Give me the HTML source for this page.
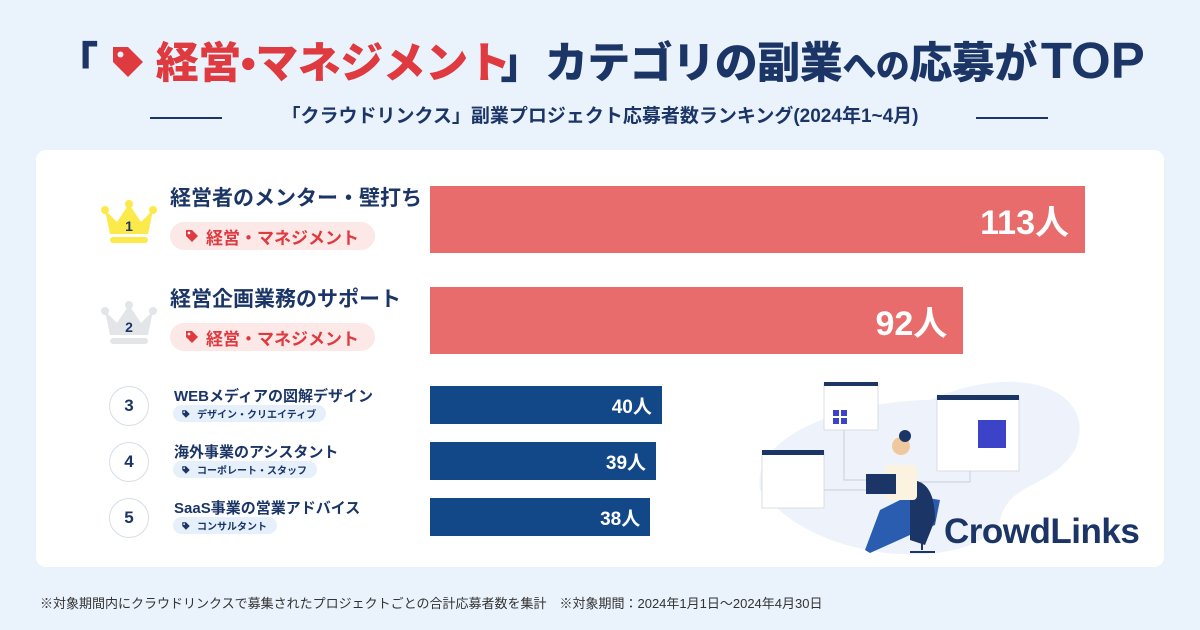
<!DOCTYPE html>
<html><head><meta charset="utf-8"><style>
*{margin:0;padding:0;box-sizing:border-box}
body{width:1200px;height:630px;background:#eaf2fb;font-family:"Liberation Sans","Noto Sans CJK JP",sans-serif;position:relative;overflow:hidden;color:#1b3566}
.abs{position:absolute}
#title{left:0;width:1200px;top:31px;text-align:center;font-weight:900;font-size:43px;white-space:nowrap;letter-spacing:-0.5px;line-height:60px}
.red{color:#de3a3f}
#sub{left:0;width:1200px;top:104px;text-align:center;font-weight:700;font-size:19px;line-height:26px}
.line{height:2px;background:#1b3566;top:117px;width:72px}
#card{left:36px;top:150px;width:1128px;height:417px;background:#fff;border-radius:10px}
.name{font-weight:700;white-space:nowrap}
.tag{border-radius:14px;font-weight:700;white-space:nowrap;display:flex;align-items:center}
.bar{display:flex;align-items:center;justify-content:flex-end;color:#fff;font-weight:700}
.circ{width:40px;height:40px;border:1.5px solid #d6dde6;border-radius:50%;text-align:center;line-height:37px;font-weight:700;font-size:17px}
#foot{left:40px;top:593px;font-size:13px;color:#333;white-space:nowrap}
</style></head><body>
<div id="title" class="abs"><span style="margin-right:8px">「</span><svg width="44" height="40" viewBox="0 0 24 24" style="vertical-align:-4px;margin-right:6px"><path d="M3 3h9l9 9-9 9-9-9z" fill="#de3a3f"/><circle cx="7.5" cy="7.5" r="1.8" fill="#eaf2fb"/></svg><span class="red">経営<span style="font-family:'Liberation Sans'">•</span>マネジメント</span><span style="margin-left:-10px;margin-right:2px">」</span>カテゴリの副業<span style="font-size:34px">への</span>応募が<span style="font-size:51px;letter-spacing:0;margin-left:4px">TOP</span></div>
<div class="abs line" style="left:150px"></div>
<div class="abs line" style="left:976px"></div>
<div id="sub" class="abs">「クラウドリンクス」副業プロジェクト応募者数ランキング(2024年1~4月)</div>
<div id="card" class="abs"></div>
<div id="rows"></div>
<svg class="abs" style="left:740px;top:370px" width="360" height="190">
<path d="M20 120 C10 60 120 30 190 30 C280 -10 360 20 335 80 C310 120 270 110 260 150 C240 200 80 200 20 120Z" fill="#eef3fb"/>
<g fill="#fff" stroke="#d8dde6"><rect x="84" y="14" width="54" height="46"/><rect x="197" y="27" width="82" height="74"/><rect x="22" y="82" width="62" height="56"/></g>
<g fill="#1b3566"><rect x="84" y="12" width="54" height="4"/><rect x="197" y="25" width="82" height="5"/><rect x="22" y="80" width="62" height="5"/></g>
<rect x="238" y="50" width="28" height="28" fill="#3c43c8"/>
<g fill="#3c43c8"><rect x="93" y="40" width="6" height="6"/><rect x="101" y="40" width="6" height="6"/><rect x="93" y="48" width="6" height="6"/><rect x="101" y="48" width="6" height="6"/></g>
<g stroke="#c8ced8" fill="none"><path d="M104 60 V110 H130"/><path d="M84 120 H130"/><path d="M230 101 V112 H180"/></g>
<path d="M125 180 l15 -40 30 -15 30 5 -5 25 -25 10 -40 18z" fill="#2a5db0"/>
<path d="M170 110 q25 0 25 40 l-10 25 l-15 -5z" fill="#1b3566"/>
<rect x="145" y="95" width="32" height="35" rx="4" fill="#fbf3e0"/>
<circle cx="161" cy="76" r="9" fill="#f0c8a0"/>
<circle cx="165" cy="66" r="6" fill="#1b3566"/>
<rect x="126" y="104" width="30" height="20" fill="#1b3566"/>
<g stroke="#1b3566" stroke-width="2"><path d="M182 165 v15 M170 182 h25"/></g>
</svg>
<div class="abs" style="left:944px;top:512px;font-size:35px;font-weight:700;color:#1b3566;letter-spacing:-0.5px">CrowdLinks</div>
<div id="foot" class="abs">※対象期間内にクラウドリンクスで募集されたプロジェクトごとの合計応募者数を集計　※対象期間：2024年1月1日～2024年4月30日</div>
<script>
const ranks=[1,2,3,4,5];
const names=["経営者のメンター・壁打ち","経営企画業務のサポート","WEBメディアの図解デザイン","海外事業のアシスタント","SaaS事業の営業アドバイス"];
const categories=["経営・マネジメント","経営・マネジメント","デザイン・クリエイティブ","コーポレート・スタッフ","コンサルタント"];
const values=[113,92,40,39,38];
const valueLabels=["113人","92人","40人","39人","38人"];
const X0=430, SCALE=655/113;
function xw(v){return v*SCALE;}
const tops=[186,287,386,442,498];
const root=document.getElementById('rows');
const tagSvg=(c,s)=>`<svg width="${s}" height="${s}" viewBox="0 0 24 24" style="margin-right:6px"><path d="M3 3h9l9 9-9 9-9-9z" fill="${c}"/><circle cx="7.5" cy="7.5" r="2" fill="#fff"/></svg>`;
ranks.forEach((r,i)=>{
 const big=i<2, t=tops[i], h=big?67:38;
 const bar=document.createElement('div');
 
 
 bar.className='abs bar';
 bar.style.cssText=`left:${X0}px;top:${t}px;width:${xw(values[i])}px;height:${h}px;background:${big?'#e96c6c':'#124887'};font-size:${big?34:19}px;padding-right:${big?16:10}px`;
 bar.textContent=valueLabels[i];
 root.appendChild(bar);
 const nm=document.createElement('div');
 
 
 nm.className='abs name';
 nm.style.cssText=big?`left:170px;top:${t-4}px;font-size:21px`:`left:174px;top:${t-1}px;font-size:15px`;
 nm.textContent=names[i];
 root.appendChild(nm);
 const tg=document.createElement('div');
 
 
 tg.className='abs tag';
 tg.style.cssText=big?`left:170px;top:${t+36}px;height:28px;padding:0 16px 0 14px;background:#fde8e8;color:#de3a3f;font-size:17px`:`left:173px;top:${t+19}px;height:17px;padding:0 10px 0 8px;background:#e6f0fb;color:#1b3566;font-size:10px`;
 tg.innerHTML=(big?tagSvg('#de3a3f',16):tagSvg('#1b3566',10))+categories[i];
 root.appendChild(tg);
 const ic=document.createElement('div');
 
 
 ic.className='abs';
 if(big){
  const c=r==1?'#fce94a':'#e3e5e8';
  ic.style.cssText=`left:100px;top:${t+12}px`;
  ic.innerHTML=`<svg width="58" height="46"><path d="M5 12 L17 24 L29 6 L41 24 L53 12 L48 36 H10Z" fill="${c}"/><circle cx="5" cy="12" r="4" fill="${c}"/><circle cx="29" cy="6" r="4" fill="${c}"/><circle cx="53" cy="12" r="4" fill="${c}"/><rect x="10" y="39" width="38" height="6" rx="3" fill="${c}"/><text x="29" y="33" text-anchor="middle" font-size="14" font-weight="700" fill="#1b3566" font-family="Liberation Sans">${r}</text></svg>`;
 } else {
  ic.className='abs circ';
  ic.style.cssText=`left:109px;top:${t}px`;
  ic.textContent=r;
 }
 root.appendChild(ic);
});
</script>
</body></html>
